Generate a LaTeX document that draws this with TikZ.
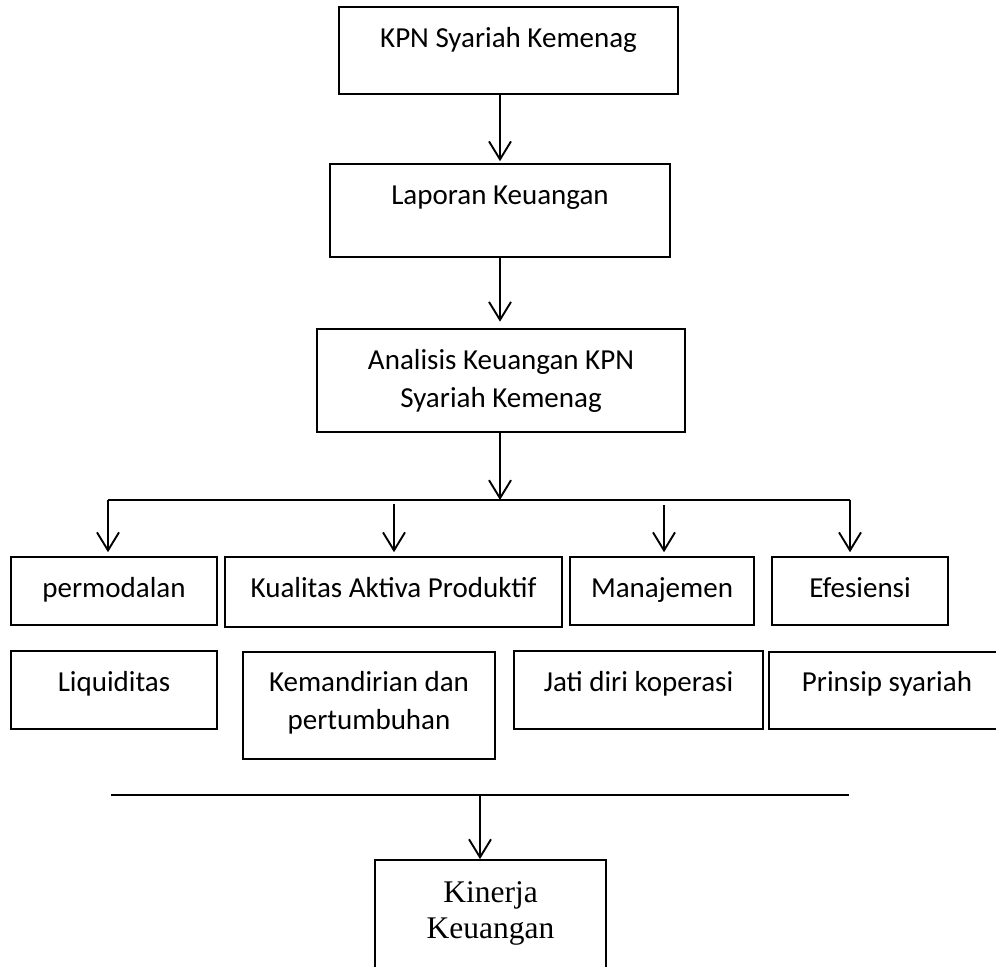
\documentclass[tikz,border=0pt]{standalone}
\usepackage{fontspec}
\setmainfont{Carlito}
\newfontfamily\timesf{Liberation Serif}
\usetikzlibrary{arrows.meta,fit}
\tikzset{
  box/.style={draw, line width=0.8pt, inner sep=0pt, rectangle},
  boxthick/.style={box, line width=1.3pt},
  txt/.style={inner sep=0pt, anchor=base, font=\fontsize{14.5}{18.5}\selectfont},
  txtserif/.style={inner sep=0pt, anchor=base, font=\timesf\fontsize{15.75}{18}\selectfont},
  arr/.style={line width=0.95pt, -{Straight Barb[length=9pt, width=11pt, line width=0.95pt]}},
  bar/.style={line width=1.1pt},
}
\begin{document}
\begin{tikzpicture}[x=0.5pt, y=-0.5pt]
\useasboundingbox (0,0) rectangle (996,966);
\clip (0,0) rectangle (996,966);
% top chain
\node[box, fit={(339,7) (678,94)}] (b1) {};
\node[txt] (t1) at (508.5,47) {KPN Syariah Kemenag};
\node[box, fit={(330,164) (670,257)}] (b2) {};
\node[txt] (t2) at (500,204) {Laporan Keuangan};
\node[boxthick, fit={(317,329) (685,432)}] (b3) {};
\node[txt] (t3a) at (501,369) {Analisis Keuangan KPN};
\node[txt] (t3b) at (501,407) {Syariah Kemenag};
\draw[arr] (b2.north |- b1.south) -- ([yshift=1pt]b2.north);
\draw[arr] (b2.north |- b2.south) -- ([yshift=3pt]b2.north |- b3.north);
% branch line
\coordinate (hl) at (108,500);
\coordinate (hr) at (850,500);
\draw[bar] (hl) -- (hr);
\draw[arr] (b2.north |- b3.south) -- (b2.north |- hl);
% row 1
\node[box, fit={(11,557) (217,625)}] (p1) {};
\node[txt] (tp1) at (114,597) {permodalan};
\node[box, fit={(225,557) (562,627)}] (p2) {};
\node[txt] (tp2) at (393.5,597) {Kualitas Aktiva Produktif};
\node[box, fit={(570,557) (754,625)}] (p3) {};
\node[txt] (tp3) at (662,597) {Manajemen};
\node[box, fit={(772,557) (948,625)}] (p4) {};
\node[txt] (tp4) at (860,597) {Efesiensi};
\coordinate (s1) at (108,500);
\coordinate (s2) at (394,504);
\coordinate (s3) at (664,505);
\coordinate (s4) at (850,500);
\draw[arr] (s1) -- ([yshift=2pt]s1 |- p1.north);
\draw[arr] (s2) -- ([yshift=2pt]s2 |- p2.north);
\draw[arr] (s3) -- ([yshift=2pt]s3 |- p3.north);
\draw[arr] (s4) -- ([yshift=2pt]s4 |- p4.north);
% row 2
\node[box, fit={(11,651) (217,729)}] (q1) {};
\node[txt] (tq1) at (114,691) {Liquiditas};
\node[box, fit={(243,652) (495,759)}] (q2) {};
\node[txt] (tq2a) at (369,691) {Kemandirian dan};
\node[txt] (tq2b) at (369,729) {pertumbuhan};
\node[box, fit={(514,651) (763,729)}] (q3) {};
\node[txt] (tq3) at (638.5,691) {Jati diri koperasi};
\node[box, fit={(769,652) (1005,729)}] (q4) {};
\node[txt] (tq4) at (887,691) {Prinsip syariah};
% bottom
\coordinate (ll) at (111,795);
\coordinate (lr) at (849,795);
\draw[bar] (ll) -- (lr);
\node[box, line width=0.9pt, fit={(375,860) (606,985)}] (k) {};
\node[txtserif] (tk1) at (490.5,902) {Kinerja};
\node[txtserif] (tk2) at (490.5,938) {Keuangan};
\coordinate (kc) at (480,795);
\draw[arr] (kc) -- (kc |- k.north);
\end{tikzpicture}
\end{document}
